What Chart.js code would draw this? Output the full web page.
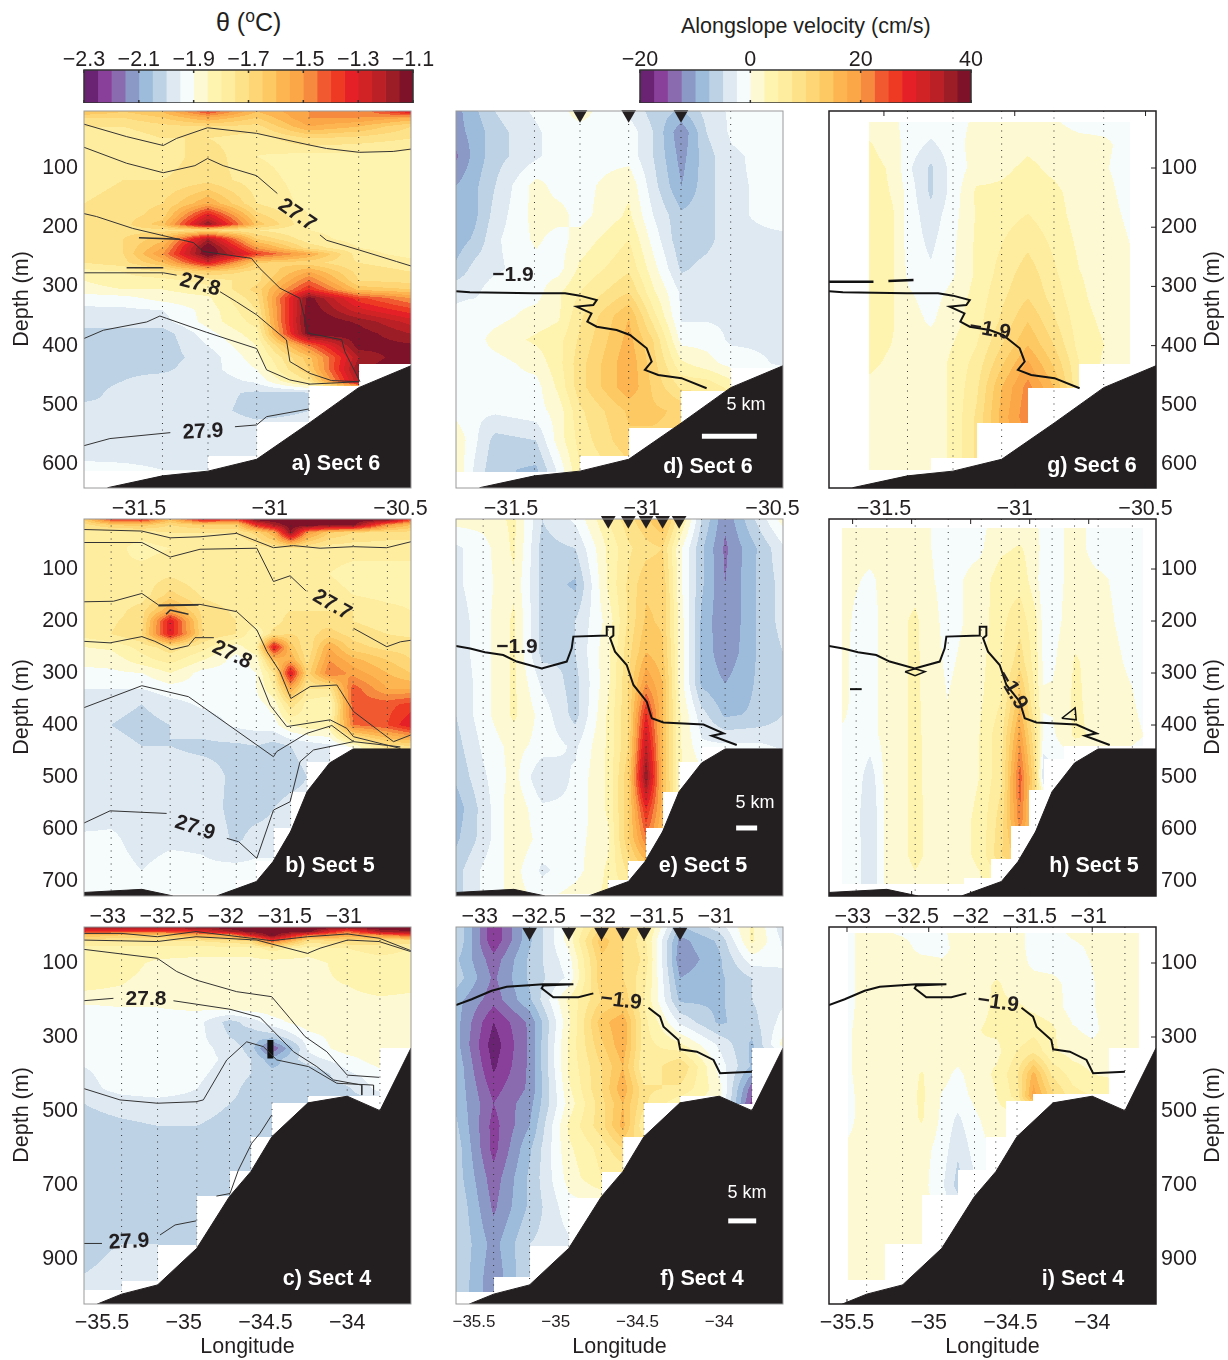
<!DOCTYPE html>
<html>
<head>
<meta charset="utf-8">
<script src="https://cdn.jsdelivr.net/npm/chart.js@4/dist/chart.umd.min.js"></script>
<style>
body{margin:0;background:#fff;width:1228px;height:1360px;position:relative;overflow:hidden;font-family:"Liberation Sans",Arial,sans-serif;color:#231f20}
canvas{position:absolute}
.ttl{position:absolute;white-space:nowrap}
sup{font-size:70%;line-height:0}
</style>
</head>
<body>
<div class="ttl" style="left:216px;top:8px;font-size:25px">θ (<sup>o</sup>C)</div>
<div class="ttl" style="left:681px;top:14px;font-size:21.5px">Alongslope velocity (cm/s)</div>
<script>
const bandColors=['#6a2373','#88409a','#8b6bb0','#8a99c5','#9dbcdb','#bdd2e5','#dfe9f2','#f6fbfc','#fdf9d3','#fef4b0','#feec9f','#fee28a','#fed676','#fdc963','#fcb550','#fba748','#f68b3f','#f15a30','#ef3a23','#e52127','#d12226','#bb2026','#9c1d26','#7e1228'];
const thetaLevels=[-2.3,-2.25,-2.2,-2.15,-2.1,-2.05,-2,-1.95,-1.9,-1.85,-1.8,-1.75,-1.7,-1.65,-1.6,-1.55,-1.5,-1.45,-1.4,-1.35,-1.3,-1.25,-1.2,-1.15];
const velLevels=[-20,-17.5,-15,-12.5,-10,-7.5,-5,-2.5,0,2.5,5,7.5,10,12.5,15,17.5,20,22.5,25,27.5,30,32.5,35,37.5];
const thetaTicks=[-2.3,-2.1,-1.9,-1.7,-1.5,-1.3,-1.1];
const velTicks=[-20,0,20,40];

// stations
const st6=[-31.41,-31.236,-31.05,-30.85,-30.66];
const st5=[-32.97,-32.71,-32.47,-32.19,-31.91,-31.74,-31.59,-31.45,-31.31,-31.12,-30.92,-30.63];
const st4=[-35.38,-35.16,-34.92,-34.72,-34.59,-34.46,-34.24,-34,-33.8];
const moor6=[-31.236,-31.05,-30.85];
const moor5=[-31.91,-31.74,-31.59,-31.45,-31.31];
const moor4=[-35.16,-34.92,-34.72,-34.59,-34.46,-34.24];

// bathymetry
const bath6Lon=[-31.62,-31.41,-31.236,-31.05,-30.85,-30.66,-30.46];
const bath6Dep=[640,620,612,592,531,471,434];
const bath5Lon=[-33.2,-32.71,-32.44,-32.08,-31.74,-31.6,-31.45,-31.31,-31.12,-30.92,-30.43];
const bath5Dep=[722,716,729,729,701,663,605,528,473,446,446];
const bath4Lon=[-35.53,-35.38,-35.16,-34.92,-34.72,-34.59,-34.46,-34.24,-34,-33.8,-33.61];
const bath4Dep=[1022,995,970,871,731,664,569,478,460,499,330];

// lowest sampled depth per column
const stairAEdge=[-31.236,-31.05,-30.85,-30.66,-30.46], stairADep=[612,587,529,468,431];
const stairDEdge=[-31.236,-31.05,-30.85,-30.66,-30.46], stairDDep=[613,587,539,477,438];
const stairGEdge=[-31.32,-31.146,-30.95,-30.754,-30.56], stairGDep=[610,590,531,471,431];
const stairBEdge=[-31.91,-31.74,-31.59,-31.45,-31.31,-31.12,-30.92,-30.43], stairBDep=[725,698,661,598,528,472,442,446];
const stairHEdge=[-32.06,-31.83,-31.66,-31.51,-31.38,-31.21,-30.54], stairHDep=[706,695,658,594,524,466,440];
const stairCEdge=[-35.38,-35.16,-34.92,-34.72,-34.59,-34.46,-34.24,-34,-33.8,-33.61], stairCDep=[985,959,862,731,661,571,478,460,460,330];
const stairFEdge=[-35.38,-35.16,-34.92,-34.72,-34.59,-34.46,-34.24,-34,-33.8,-33.61], stairFDep=[988,949,865,735,664,571,478,460,480,330];
const stairIEdge=[-35.27,-35.04,-34.82,-34.65,-34.53,-34.36,-33.9,-33.71], stairIDep=[957,859,727,659,569,473,454,329];

// potential temperature, section 6
const aLon=[-31.71,-31.56,-31.41,-31.236,-31.05,-30.85,-30.66,-30.46];
const aDep=[5,15,30,50,80,120,160,180,195,205,220,235,245,260,275,290,305,320,340,360,380,400,420,440,460,480,510,540,580,610];
const aVal=[
[-1.6,-1.65,-1.6,-1.4,-1.6,-1.5,-1.5,-1.3],
[-1.7,-1.7,-1.65,-1.55,-1.65,-1.5,-1.5,-1.55],
[-1.75,-1.75,-1.72,-1.7,-1.72,-1.55,-1.6,-1.7],
[-1.78,-1.78,-1.75,-1.75,-1.78,-1.7,-1.72,-1.75],
[-1.78,-1.78,-1.78,-1.72,-1.8,-1.82,-1.82,-1.82],
[-1.78,-1.75,-1.75,-1.72,-1.78,-1.82,-1.82,-1.82],
[-1.75,-1.72,-1.7,-1.55,-1.75,-1.82,-1.82,-1.82],
[-1.75,-1.72,-1.68,-1.3,-1.68,-1.8,-1.82,-1.82],
[-1.75,-1.72,-1.62,-1.15,-1.62,-1.8,-1.82,-1.82],
[-1.75,-1.72,-1.72,-1.7,-1.75,-1.8,-1.82,-1.82],
[-1.72,-1.7,-1.62,-1.2,-1.65,-1.78,-1.82,-1.82],
[-1.72,-1.7,-1.55,-1.08,-1.5,-1.72,-1.8,-1.82],
[-1.72,-1.7,-1.5,-1.08,-1.38,-1.55,-1.78,-1.82],
[-1.75,-1.72,-1.6,-1.3,-1.65,-1.68,-1.75,-1.78],
[-1.82,-1.8,-1.75,-1.65,-1.72,-1.55,-1.72,-1.75],
[-1.85,-1.82,-1.82,-1.78,-1.72,-1.45,-1.7,-1.72],
[-1.87,-1.85,-1.85,-1.82,-1.68,-1.35,-1.62,-1.65],
[-1.93,-1.92,-1.88,-1.86,-1.72,-1.12,-1.38,-1.5],
[-1.96,-1.96,-1.95,-1.88,-1.75,-1.1,-1.28,-1.38],
[-1.98,-1.98,-1.97,-1.88,-1.78,-1.08,-1.16,-1.27],
[-2.02,-2.02,-2.03,-1.92,-1.82,-1.1,-1.12,-1.2],
[-2.02,-2.02,-2.03,-1.95,-1.85,-1.45,-1.12,-1.14],
[-2.02,-2.02,-2.02,-1.98,-1.87,-1.62,-1.2,-1.1],
[-2.02,-2.01,-2.01,-1.97,-1.9,-1.65,-1.15,-1.1],
[-2.01,-2,-1.98,-1.98,-1.94,-1.75,-1.2],
[-2.01,-1.99,-1.98,-1.98,-2.01,-2.01],
[-1.99,-2,-1.98,-1.98,-2.02,-2],
[-1.97,-1.98,-1.98,-1.97,-1.98],
[-1.98,-1.98,-1.98,-1.97],
[-1.92,-1.93,-1.95,-1.95]];

// potential temperature, section 5
const bLon=[-33.2,-32.97,-32.71,-32.47,-32.19,-31.91,-31.74,-31.59,-31.45,-31.31,-31.12,-30.92,-30.63,-30.43];
const bDep=[5,15,30,60,110,150,180,200,225,250,275,300,330,360,400,440,500,560,620,680,725];
const bVal=[
[-1.65,-1.4,-1.35,-1.6,-1.3,-1.4,-1.12,-1.1,-1.1,-1.1,-1.1,-1.1,-1.12,-1.4],
[-1.72,-1.65,-1.62,-1.7,-1.65,-1.65,-1.35,-1.2,-1.1,-1.1,-1.12,-1.12,-1.5,-1.6],
[-1.78,-1.78,-1.78,-1.75,-1.75,-1.75,-1.68,-1.55,-1.15,-1.5,-1.65,-1.7,-1.72,-1.72],
[-1.78,-1.78,-1.82,-1.8,-1.8,-1.8,-1.78,-1.75,-1.75,-1.75,-1.78,-1.78,-1.78,-1.78],
[-1.8,-1.8,-1.78,-1.76,-1.8,-1.8,-1.8,-1.8,-1.78,-1.78,-1.8,-1.82,-1.82,-1.82],
[-1.8,-1.8,-1.78,-1.68,-1.76,-1.78,-1.78,-1.78,-1.75,-1.76,-1.78,-1.8,-1.82,-1.82],
[-1.78,-1.78,-1.72,-1.55,-1.72,-1.76,-1.8,-1.78,-1.75,-1.75,-1.75,-1.75,-1.78,-1.8],
[-1.78,-1.76,-1.72,-1.3,-1.72,-1.75,-1.78,-1.78,-1.72,-1.7,-1.72,-1.75,-1.78,-1.78],
[-1.78,-1.75,-1.7,-1.3,-1.7,-1.75,-1.85,-1.72,-1.7,-1.72,-1.68,-1.72,-1.75,-1.76],
[-1.85,-1.84,-1.78,-1.72,-1.78,-1.88,-1.8,-1.3,-1.62,-1.75,-1.55,-1.68,-1.72,-1.72],
[-1.89,-1.88,-1.82,-1.78,-1.85,-1.92,-1.88,-1.6,-1.55,-1.72,-1.5,-1.58,-1.65,-1.7],
[-1.91,-1.91,-1.9,-1.85,-1.92,-1.92,-1.9,-1.75,-1.28,-1.68,-1.45,-1.52,-1.6,-1.65],
[-1.95,-1.95,-1.95,-1.92,-1.92,-1.92,-1.9,-1.8,-1.55,-1.75,-1.75,-1.42,-1.55,-1.55],
[-1.96,-1.98,-2,-1.97,-1.94,-1.93,-1.92,-1.88,-1.72,-1.82,-1.85,-1.42,-1.42,-1.38],
[-2,-2,-2.02,-2,-1.98,-1.94,-1.93,-1.92,-1.85,-1.82,-1.82,-1.45,-1.4,-1.3],
[-1.98,-1.98,-2,-2,-2.01,-2.01,-2,-2.02,-2,-1.98,-1.96,-1.88,-1.72,-1.7],
[-2,-1.98,-1.98,-1.98,-1.98,-2.01,-2.03,-2.03,-2.02,-2],
[-1.98,-1.97,-1.97,-1.97,-1.97,-2.02,-2.02,-2,-1.98],
[-1.94,-1.94,-1.97,-1.96,-1.96,-2.01,-1.98],
[-1.93,-1.93,-1.95,-1.93,-1.94,-1.93],
[-1.92,-1.92,-1.92,-1.92,-1.92,-1.92]];

// potential temperature, section 4
const cLon=[-35.61,-35.38,-35.16,-34.92,-34.72,-34.59,-34.46,-34.24,-34,-33.8,-33.61];
const cDep=[5,15,25,40,60,100,160,220,260,300,330,360,400,440,480,540,600,700,800,900,1000];
const cVal=[
[-1.2,-1.2,-1.2,-1.15,-1.12,-1.1,-1.1,-1.1,-1.15,-1.1,-1.1],
[-1.35,-1.4,-1.4,-1.35,-1.2,-1.12,-1.1,-1.12,-1.45,-1.2,-1.15],
[-1.6,-1.65,-1.65,-1.55,-1.55,-1.3,-1.1,-1.45,-1.55,-1.5,-1.4],
[-1.75,-1.75,-1.75,-1.75,-1.72,-1.7,-1.4,-1.72,-1.7,-1.72,-1.72],
[-1.82,-1.82,-1.82,-1.82,-1.82,-1.82,-1.78,-1.82,-1.8,-1.78,-1.8],
[-1.82,-1.83,-1.86,-1.87,-1.87,-1.87,-1.87,-1.87,-1.83,-1.82,-1.82],
[-1.83,-1.85,-1.87,-1.87,-1.86,-1.86,-1.86,-1.86,-1.85,-1.83,-1.84],
[-1.91,-1.9,-1.9,-1.89,-1.88,-1.87,-1.87,-1.87,-1.87,-1.87,-1.87],
[-1.92,-1.92,-1.92,-1.93,-2.02,-1.98,-1.92,-1.87,-1.87,-1.87,-1.87],
[-1.92,-1.91,-1.91,-1.93,-2,-2.03,-2.03,-1.92,-1.87,-1.87,-1.87],
[-1.92,-1.91,-1.91,-1.93,-1.97,-2.02,-2.2,-1.94,-1.87,-1.87],
[-1.94,-1.92,-1.91,-1.93,-1.96,-2,-2.08,-1.97,-1.92,-1.87],
[-1.96,-1.92,-1.92,-1.94,-1.97,-2,-2.03,-2.05,-1.96,-1.92],
[-1.97,-1.93,-1.92,-1.95,-1.98,-2.02,-2.03,-2.03,-2.01,-1.93],
[-2,-1.98,-1.97,-1.97,-2,-2.02,-2.03,-2.03],
[-2.02,-2.01,-2,-2,-2.02,-2.03,-2.02],
[-2.03,-2.03,-2.03,-2.03,-2.03,-2.03],
[-2.03,-2.03,-2.02,-2.03,-2.02],
[-2.03,-2.03,-2,-2.03],
[-2.02,-1.98,-2,-2.02],
[-1.97,-1.95,-1.98]];

// velocity, section 6
const dLon=[-31.71,-31.637,-31.56,-31.404,-31.32,-31.236,-31.049,-30.956,-30.848,-30.752,-30.656,-30.46];
const dDep=[5,40,80,130,180,220,270,310,350,390,430,470,510,560,610];
const dVal=[
[-11,-8,-5,-2,-1,1,-3,-6,-8,-4,-2,-1],
[-11,-9,-6,-3,-1,-1,-1,-5,-12,-5,-2,-1],
[-13,-9,-6,-3,-1,-1,-1,-5,-11,-6,-3,-1],
[-10,-8,-5,1,-1,-1,2,-4,-10,-6,-3,-1.5],
[-10,-8,-4,1,1,-1,3,-2.5,-7,-6,-3,-1.5],
[-9,-7,-3,0.5,-1,1,5,-1,-7,-6,-3,-3],
[-7,-4,-3,-1,-1,3,7,1,-5.5,-4,-3,-3],
[-3,-3,-1,-1,2,5,10,3,-3,-3,-3,-3],
[-2,-1,-1,1,2,7,15,6,-3,-3,-3,-3],
[-2,-1,1,3,4,8,16,10,-1,-1,-3,-3],
[-1,-1,-1,1,4,9,17,11,3,1,-1,-3],
[-1,-1,-1,-1,3,9,17,12,7,7,4,1],
[-1,-2,-2,-1,1,7,13,13,12,8,8,2],
[2,-2,-6,-5,1,6,12],
[2,-3,-7,-8,-2,5,9]];

// velocity, section 5
const eLon=bLon;
const eDep=[5,60,130,200,260,320,380,440,500,560,620,680,725];
const eVal=[
[1,1,3,-5,-2,5,9,12,15,6,-5,-12,-4,1],
[-3,-1,3,-6,-5,3,7,9,10,1,-7,-13,-7,-3],
[-3,-1,2,-6,-8,3,8,12,12,1,-7,-12.5,-7,-4],
[-4,-1,3,-6,-5,1,8,13,12,2,-8,-12.5,-7,-4],
[-4,-1,3,-6,-5,2,9,15,13,2,-8,-12,-7,-5],
[-5,-1,3,-3,-6,2,10,20,15,2,-8,-10,-7,-5],
[-5,-1,3,-1,-6,3,10,28,15,3,-4,-8,-7,-5],
[-6,-2,1,-1,-3,3,10,33,15,3,-2,-2,-2,-3],
[-7,-3,1,-5,-2,3,12,38,15,3,1],
[-9,-4,2,-2,-2,3,12,28,16,2,-1],
[-8,-4,2,-1,-1,2,12,22,14],
[-6,-2,1,-3,-1,3,8,12],
[-6,-2,1,-1,1,3,5]];

// velocity, section 4
const fLon=cLon;
const fDep=[5,40,90,140,200,260,320,380,440,480,540,600,680,760,860,960];
const fVal=[
[-5,-17,-8,1,10,10,7,-8,-4,3,-4],
[-5,-17,-8,1,14,10,6,-11,-7,3,-3],
[-7,-14,-7,-1,12,10,7,-12,-8,-1,-2],
[-6,-13,-7,-2,12,10,6,-10,-8,-5,-3],
[-9,-14,-8,3,10,12,5,-8,-8,-5,-3],
[-9,-17.5,-12,2,14,17,6,-3,-8,-6,-1.5],
[-9,-19,-12,3,12,17,6,3,-3,-8,1],
[-8,-18,-12,3,10,15,5,10,-1,-8,-8],
[-8,-16,-12,2,10,17,8,7,1,-14,-15],
[-8,-15,-11,1,9,15,8,3,1,-16,-16],
[-7,-16,-10,3,9,16,5,5],
[-6,-16,-8,2,6,10],
[-6,-14,-7,1,5],
[-5,-13,-7,-1],
[-5,-11,-5,-3],
[-5,-12,-5]];

// velocity from the model, section 6
const gLon=[-31.559,-31.464,-31.406,-31.321,-31.238,-31.145,-31.05,-30.95,-30.85,-30.753,-30.657,-30.559];
const gDep=[22,60,100,140,180,230,280,320,360,400,430,470,520,610];
const gVal=[
[1,0.5,-1,-1,-1,0.5,1,1,0.3,-1,-1,-1],
[2.8,1,-1,-3,-1,1,1,2,1.5,1,0.5,-1],
[3.6,2,-2,-5.5,-1.5,1,2,3,2,1,0.2,-1],
[3.6,2.3,-1,-5.5,-1.5,3,3,3.5,3,1.5,0.8,-1],
[3.6,2.6,-1,-4,-1,2.8,4,5.1,3.5,1.5,1,-0.5],
[3.6,2.6,-1,-3,-0.5,3,5,7,4.5,2,1.5,0],
[3.6,2.6,-0.5,-2,-0.3,3,6,9,5.5,2.6,1.5,1],
[3.6,2.6,0.5,-1,1,3.5,7,10,6.5,3,1.5,1],
[3.6,2.6,1,-0.3,1.5,4,8,12.5,8,3.5,2,1],
[3.4,2.4,1,1,2.5,5,10,15,10,4,2.5,1.5],
[3,2,1,1,3,6,12,18,12,5,2,1.5],
[2,1.5,1,1,3,7,15,21,15,5],
[1.5,1.2,1,1,3,8,16,22,16],
[0.5,1,1,1,3,8,16]];

// velocity from the model, section 5
const hLon=[-33.087,-32.974,-32.852,-32.711,-32.471,-32.197,-31.926,-31.736,-31.581,-31.448,-31.383,-31.307,-31.115,-30.931,-30.635,-30.536];
const hDep=[21,60,120,200,280,350,420,500,580,650,710];
const hVal=[
[1,1,1,1,1,-1,-0.5,1,1,0.5,-1,-1,1,-1,-1,-1],
[1,1,1,1,1,-1,-0.5,2,2.8,1,-1,-1,1,-1,-1,-1],
[1,0.3,-0.5,1,1.5,-1,1,4,4,1,-2,-1,1,0.5,-1,-1],
[1,-0.5,-1,1,3,-1,1,4.5,6.5,3,-1,-1,1.5,1,-1,-1],
[1,-1,-1,1,3,-0.5,1.5,5,9,3.5,-0.5,-0.5,2.8,1.5,-0.5,-1],
[1,-1,-1,1,3,0,2,5,14,4,0.3,0.5,3,1.5,0.3,-1],
[-0.5,-0.5,-1,1,3,0.5,2.5,7,19,7,-0.5,-0.5,3,2,1,0],
[-1,-1,-4,1,3,0.7,2.5,7,24,9,-5,-3],
[-1,-1.5,-5,1,3,1,3,9,22,10],
[-0.8,-1,-5,1,3,1,3,10,14],
[-0.8,-1,-5,1,2,1,2]];

// velocity from the model, section 4
const iLon=[-35.496,-35.41,-35.161,-35.043,-34.92,-34.822,-34.722,-34.584,-34.461,-34.359,-34.247,-34.121,-33.998,-33.9,-33.711];
const iDep=[19,60,100,160,220,280,340,400,460,520,600,700,860,960];
const iVal=[
[-1,1,-0.3,-1,-0.5,1,1,1,1,-1,-1,0.5,1,1,1],
[-1,1,1,-0.8,-1,1,1,1.5,1,-1,-1,-0.7,0.5,1,1],
[-1,1,1,1,0.5,1,1,1,1,-0.5,-1,-1,0.1,1,1],
[-1,1,1,1,1,1,1,3,1,1,1,-1,-0.2,1,1],
[-1,1,1,1,1,1,1.5,3,3,2,1.2,-1,-0.2,1,1],
[-0.5,1,1,1,1,1,2.3,3,3,4,3,0.3,-0.7,1,1],
[-0.5,1,1,1,1,1,2.4,1.8,5,7,3,1.5,1,1,1],
[-0.5,1,1,2.7,0.8,-0.5,1,3,7,16,7,4,2.5,2,1],
[-1,1,1,3,-0.2,-1,0.5,2.5,6,19,11,6,5,5,1],
[-1,1,1,2.8,-0.5,-3,-0.5,1.5,1,1],
[0.5,1,1,1,-1,-4.5,-1.5,1],
[1,1,1,1,-2,-6,-3],
[1,1,1,1],
[1,1,1]];

// isopycnals, section 6
const a1Lon=[-31.71,-31.547,-31.407,-31.356,-31.238,-31.05,-30.85,-30.783,-30.658,-30.528,-30.46];
const a1Dep=[26,47,62,50,32,41.5,61,67,73.5,72,68];
const a2Lon=[-31.71,-31.547,-31.407,-31.286,-31.238,-31.178,-31.05,-30.971,null,-30.808,-30.783,-30.658,-30.515,-30.46];
const a2Dep=[65,92,108,96,84,96,113,143,null,213,222,238.5,258,265.5];
const a3Lon=[-31.71,-31.662,-31.524,-31.4,-31.292,-31.254,-31.07,-31.038,-30.961,-30.885,-30.853,-30.725,-30.713,-30.655];
const a3Dep=[177,182,202,215,226,241,252.6,269.5,303,320,379,390,410,461];
const a4Lon=[-31.71,-31.407,-31.356,null,-31.19,-31.127,-31.05,-30.936,-30.923,-30.846,-30.764,-30.658];
const a4Dep=[277,277,281,null,309,326,348,390.5,427,447,459,461];
const a5Lon=[-31.71,-31.636,-31.47,-31.42,-31.394,-31.241,-31.05,-31.012,-30.923,-30.846,-30.658];
const a5Dep=[388,374,360,350,354,377.6,405,441,458,465,461];
const a6Lon=[-31.71,-31.611,-31.38,null,-31.133,-31.05,-31.012,-30.85];
const a6Dep=[569,557,547,null,537,534,520,507];
const a7Lon=[-31.5,-31.343,null,-31.547,-31.407];
const a7Dep=[217.7,220.5,null,268.3,268.3];
// isopycnals, section 5
const b1Lon=[-33.205,-32.71,-32.47,-32.217,-31.906,-31.595,-31.425,-31.2,-30.917,-30.635,-30.43];
const b1Dep=[24,27,40,38,31.5,59,55,60,57,59,47.5];
const b2Lon=[-33.205,-32.71,-32.47,-32.217,-31.736,-31.595,-31.454,-31.32,null,-30.917,-30.635,-30.52,-30.43];
const b2Dep=[49,49,77,62,60,124,113,142,null,214,249.4,240,237];
const b3Lon=[-33.205,-32.951,-32.71,-32.57,-32.217,-31.906,-31.736,-31.65,-31.54,-31.448,-31.284,-31.058,-30.917,-30.69,-30.578,-30.43];
const b3Dep=[163,162,147,169,168,182,217,259,297.5,349,326,323,374,413,432,419];
const b4Lon=[-33.205,-32.979,-32.71,-32.6,-32.457,-32.315,-32.26,-32.1,null,-31.72,-31.623,-31.482,-31.115,-30.974,-30.917,-30.52];
const b4Dep=[239,242,230,239,255,247.5,232,232,null,307,362,403,390,406.4,422.5,445];
const b5Lon=[-33.205,-32.71,-32.315,-32.075,-31.595,-31.567,-31.313,-31.1,-31.03,-30.917,-30.52];
const b5Dep=[367,324.4,345.5,384,461,451,416,401,413,432,442];
const b6Lon=[-33.205,-32.979,-32.5,null,-31.99,-31.89,-31.736,-31.595,-31.454,-31.37,-31.256,-30.917];
const b6Dep=[589,565,570,null,618,624.4,656.4,563.5,547.5,470.5,448,432];
const b7Lon=[-32.57,-32.23,null,-32.505,-32.47,-32.315];
const b7Dep=[170.6,169,null,187,179,187];
// isopycnals, section 4
const c1Lon=[-35.614,-35.38,-35.161,-34.925,-34.462,-34.243,-33.998,-33.805,-33.61];
const c1Dep=[20,20,29,15,39.7,29,21.6,33,66.7];
const c2Lon=[-35.614,-35.161,-34.925,-34.553,-34.462,-34.243,-34.166,-33.998,-33.805,-33.61];
const c2Dep=[38,42,29,38,48.7,74,60,38,42,69.4];
const c3Lon=[-35.614,-35.161,-35.043,-34.925,-34.676,-34.462,-34.35,-34.258,-34.125,-34,-33.805];
const c3Dep=[63,87.4,123,146,177.5,191,249.6,299,339.7,403,409];
const c4Lon=[-35.614,-35.43,null,-35.063,-34.717,-34.533,-34.329,-34.186,-34.084,-33.911,-33.911];
const c4Dep=[202,195.5,null,202,225,247,339.7,380,416,430,457];
const c5Lon=[-35.614,-35.39,-35.161,-34.925,-34.88,-34.737,-34.615,-34.513,-34.431,-34.237,-34.064,-33.839,-33.839];
const c5Dep=[439,470,479,475,470,362,313,326,362,380,425,430,457];
const c6Lon=[-34.462,-34.533,-34.584,-34.666,-34.717,-34.8];
const c6Dep=[511,560,587,660,723,730];
const c7Lon=[-35.614,-35.5,null,-35.145,-35.053,-34.925];
const c7Dep=[858,858,null,835,808,797];
const cCoreLon=[-34.47,-34.47], cCoreDep=[308,358];

// -1.9 isotherm
const th6Lon=[-31.71,-31.657,-31.414,-31.293,-31.236,-31.172,-31.185,-31.249,-31.192,-31.208,-31.172,-31.096,-31.045,-30.981,-30.962,-30.988,-30.937,-30.848,-30.752];
const th6Dep=[308,310,311.7,311.7,315.6,323,331.4,334,345.5,359.5,368,373.6,382,404.6,427,441,449.6,455,472];
const th6DashLon=[-31.71,-31.54,null,-31.483,-31.387], th6DashDep=[292,292,null,291,289];
const th5Lon=[-33.2,-33.08,-32.954,-32.8,-32.686,-32.474,-32.262,-32.22,-32.206,-31.923,-31.923,-31.867,-31.867,-31.895,-31.853,-31.754,-31.697,-31.584,-31.542,-31.443,-31.104,-30.934,-31.033,-30.822];
const th5Dep=[248,253,260,265.4,278,291,278,252.6,230,228,211,211,228,233,259,284.6,323,355,387,395,399,416,420.5,438.5];
const th5LoopLon=[-32.556,-32.471,-32.386,-32.471,-32.556], th5LoopDep=[297.5,292,297.5,305,297.5];
const th5DashLon=[-33.022,-32.923], th5DashDep=[331,331];
const th5BlipLon=[-31.228,-31.115,-31.106,-31.228], th5BlipDep=[387,367,390,387];
const th4Lon=[-35.61,-35.514,-35.392,-35.3,-35.076,-34.892,-35.076,-35.086,-35.015,-34.862,-34.77,null,-34.433,-34.362,-34.341,-34.25,-34.239,-34.137,-34.035,-33.995,-33.8];
const th4Dep=[213.5,198,175,164,157.7,157.7,161,168.5,192.8,192.8,182,null,221,245,272,308,333.4,339.7,362,398,393.8];

// scale bars, 5 km
const kmDLon=[-30.77,-30.56], kmDDep=[553,553];
const kmELon=[-30.827,-30.649], kmEDep=[598,598];
const kmFLon=[-33.945,-33.774], kmFDep=[797,797];

const xTicks6=[-31.5,-31,-30.5], xTicks5=[-33,-32.5,-32,-31.5,-31], xTicks4=[-35.5,-35,-34.5,-34];
const yTicks6=[100,200,300,400,500,600], yTicks5=[100,200,300,400,500,600,700], yTicks4=[100,300,500,700,900];

const FONT='"Liberation Sans", Arial, sans-serif';
const INK='#231f20';
const TICK=21.5;
const PANEL='bold 21.5px';
const KM='18px';
const minus=v=>(v<0?'\u2212':'')+Math.abs(v);
const pts=(lon,dep)=>lon.map((x,i)=>({x:x,y:dep[i]}));
const iso=(lon,dep,w)=>({type:'line',data:pts(lon,dep),borderColor:'#333',borderWidth:w||1,pointRadius:0,order:1,tension:0});
const thick=(lon,dep,w)=>({type:'line',data:pts(lon,dep),borderColor:'#111',borderWidth:w||2,pointRadius:0,order:1,tension:0});

const fieldPlugin={
  id:'field',
  beforeDatasetsDraw(chart,args,o){
    const {ctx,chartArea:a,scales:{x,y}}=chart;
    const L=Math.round(a.left),R=Math.round(a.right),T=Math.round(a.top),B=Math.round(a.bottom);
    const nc=o.lon.length,nr=o.dep.length;
    const val=(r,c)=>{const row=o.val[r];return c<row.length?row[c]:row[row.length-1]};
    const lons=[];
    for(let px=L;px<R;px++){
      const lon=x.getValueForPixel(px+.5);
      let c=0;while(c<nc-2&&lon>o.lon[c+1])c++;
      let s=0;while(s<o.stairEdge.length-1&&lon>o.stairEdge[s])s++;
      lons.push({c:c,t:(lon-o.lon[c])/(o.lon[c+1]-o.lon[c]),bot:o.stairDep[s],on:lon>=o.lon[0]&&lon<=o.lon[nc-1]});
    }
    for(let py=T;py<B;py++){
      const dep=y.getValueForPixel(py+.5);
      if(o.clipTop&&dep<o.dep[0])continue;
      let r=0;while(r<nr-2&&dep>o.dep[r+1])r++;
      const u=Math.min(1,Math.max(0,(dep-o.dep[r])/(o.dep[r+1]-o.dep[r])));
      let runStart=-1,runCol=-1;
      for(let i=0;i<=lons.length;i++){
        let k=-1;
        if(i<lons.length&&lons[i].on&&dep<=lons[i].bot){
          const q=lons[i];
          const v=(val(r,q.c)*(1-q.t)+val(r,q.c+1)*q.t)*(1-u)+(val(r+1,q.c)*(1-q.t)+val(r+1,q.c+1)*q.t)*u;
          k=Math.max(0,Math.min(23,Math.floor((v-o.lo)/o.step+1e-9)));
        }
        if(k!==runCol){
          if(runCol>=0){ctx.fillStyle=bandColors[runCol];ctx.fillRect(L+runStart,py,i-runStart,1)}
          runStart=i;runCol=k;
        }
      }
    }
  }
};

const decorPlugin={
  id:'decor',
  afterDatasetsDraw(chart,args,o){
    const {ctx,chartArea:a,scales:{x,y}}=chart;
    ctx.save();
    ctx.strokeStyle=o.frame;ctx.lineWidth=o.frameW;
    ctx.strokeRect(a.left,a.top,a.right-a.left,a.bottom-a.top);
    ctx.strokeStyle=INK;ctx.lineWidth=1;
    ctx.beginPath();
    x.ticks.forEach(t=>{const p=x.getPixelForValue(t.value);ctx.moveTo(p,a.bottom);ctx.lineTo(p,a.bottom-o.tick);if(o.tickTop){ctx.moveTo(p,a.top);ctx.lineTo(p,a.top+o.tick)}});
    if(y&&y.ticks&&o.yTick)y.ticks.forEach(t=>{const p=y.getPixelForValue(t.value);const e=y.position==='right'?a.right:a.left;const d=y.position==='right'?-o.yTick:o.yTick;ctx.moveTo(e,p);ctx.lineTo(e+d,p)});
    ctx.stroke();
    const ox=o.ox,oy=o.oy;
    ctx.textAlign='center';ctx.textBaseline='middle';
    (o.texts||[]).forEach(t=>{
      ctx.save();ctx.translate(t[1]-ox,t[2]-oy);ctx.rotate((t[3]||0)*Math.PI/180);
      ctx.font=(t[5]||'bold 21px')+' '+FONT;ctx.fillStyle=t[4]||INK;ctx.fillText(t[0],0,0);ctx.restore();
    });
    ctx.restore();
  }
};

function addPanel(p){
  const c=document.createElement('canvas');
  const ox=p.left-p.mL,oy=p.top-p.mT;
  const w=p.w+p.mL+p.mR,h=p.h+p.mT+p.mB;
  c.width=w;c.height=h;c.style.left=ox+'px';c.style.top=oy+'px';c.style.width=w+'px';c.style.height=h+'px';
  document.body.appendChild(c);
  const datasets=[];
  p.stations.forEach(s=>datasets.push({type:'line',data:[{x:s,y:p.yMin},{x:s,y:p.yMax}],borderColor:'#333',borderWidth:1,borderDash:[1,5.5],pointRadius:0,order:3}));
  p.lines.forEach(l=>datasets.push(l));
  datasets.push({type:'line',data:pts(p.bathLon,p.bathDep),borderColor:'#231f20',backgroundColor:'#231f20',borderWidth:1,pointRadius:0,fill:{value:p.yMax},order:0});
  if(p.km)datasets.push({type:'line',data:pts(p.km[0],p.km[1]),borderColor:'#fff',borderWidth:5,pointRadius:0,order:-1,borderCapStyle:'butt'});
  if(p.moor)datasets.push({type:'line',showLine:false,clip:false,data:p.moor.map(m=>({x:m,y:p.moorDep})),pointStyle:'triangle',pointRotation:180,pointRadius:8.5,pointBackgroundColor:'#231f20',pointBorderWidth:0,order:-2});
  const none=p.yPos==='none',right=p.yPos==='right';
  new Chart(c,{
    type:'line',
    data:{datasets:datasets},
    plugins:[fieldPlugin,decorPlugin],
    options:{
      responsive:false,animation:false,events:[],
      layout:{autoPadding:false,padding:{left:none||right?p.mL:0,right:right?0:p.mR,top:p.mT,bottom:0}},
      scales:{
        x:{type:'linear',min:p.xMin,max:p.xMax,grid:{display:false,drawTicks:false},border:{display:false},
          afterBuildTicks:s=>{s.ticks=p.xTicks.map(v=>({value:v}))},
          afterFit:s=>{s.height=p.mB;s.paddingLeft=0;s.paddingRight=0},
          ticks:{autoSkip:false,maxRotation:0,padding:p.xPad,color:INK,font:{family:FONT,size:p.xFont||TICK},callback:minus},
          title:{display:!!p.xTitle,text:'Longitude',color:INK,font:{family:FONT,size:21.5},padding:{top:0,bottom:0}}},
        y:{type:'linear',reverse:true,min:p.yMin,max:p.yMax,display:!none,position:right?'right':'left',grid:{display:false,drawTicks:false},border:{display:false},
          afterBuildTicks:s=>{s.ticks=p.yTicks.map(v=>({value:v}))},
          afterFit:s=>{s.width=none?0:(right?p.mR:p.mL);s.paddingTop=0;s.paddingBottom=0},
          ticks:{autoSkip:false,padding:right?5:6,color:INK,font:{family:FONT,size:TICK}}}
      },
      plugins:{
        legend:{display:false},tooltip:{enabled:false},
        field:{lon:p.lon,dep:p.dep,val:p.val,stairEdge:p.stairEdge,stairDep:p.stairDep,lo:p.lo,step:p.step,clipTop:p.clipTop},
        decor:{frame:p.frame,frameW:p.frameW,tick:p.tick,tickTop:p.tickTop,yTick:p.yTick,ox:ox,oy:oy,texts:p.texts}
      }
    }
  });
}

function addBar(left,width,levels,step,ticks){
  const c=document.createElement('canvas');
  const mL=40,mR=30,mT=36,h=33;
  c.width=width+mL+mR;c.height=h+mT;c.style.left=(left-mL)+'px';c.style.top=(70-mT)+'px';
  document.body.appendChild(c);
  new Chart(c,{
    type:'bar',
    data:{labels:['k'],datasets:levels.map((lo,i)=>({data:[[lo,lo+step]],backgroundColor:bandColors[i],barPercentage:1,categoryPercentage:1,grouped:false}))},
    plugins:[{id:'barFrame',afterDatasetsDraw(ch){
      const {ctx,chartArea:a,scales:{x}}=ch;
      ctx.save();ctx.strokeStyle='#333';ctx.lineWidth=1.5;ctx.strokeRect(a.left,a.top,a.right-a.left,a.bottom-a.top);
      ctx.beginPath();x.ticks.forEach(t=>{const p=x.getPixelForValue(t.value);ctx.moveTo(p,a.top);ctx.lineTo(p,a.top+3);ctx.moveTo(p,a.bottom);ctx.lineTo(p,a.bottom-3)});ctx.stroke();ctx.restore();
    }}],
    options:{
      indexAxis:'y',responsive:false,animation:false,events:[],
      layout:{autoPadding:false,padding:{left:mL,right:mR,top:0,bottom:0}},
      scales:{
        x:{type:'linear',position:'top',min:levels[0],max:levels[23]+step,grid:{display:false,drawTicks:false},border:{display:false},
          afterBuildTicks:s=>{s.ticks=ticks.map(v=>({value:v}))},afterFit:s=>{s.height=mT;s.paddingLeft=0;s.paddingRight=0},
          ticks:{autoSkip:false,maxRotation:0,padding:-3,color:INK,font:{family:FONT,size:TICK},callback:minus}},
        y:{display:false}
      },
      plugins:{legend:{display:false},tooltip:{enabled:false}}
    }
  });
}

addBar(84,329,thetaLevels,0.05,thetaTicks);
addBar(640,331,velLevels,2.5,velTicks);

const row6={top:111,h:377,w:327,mT:12,mB:40,xPad:8,xMin:-31.71,xMax:-30.46,yMin:3.7,yMax:640.5,xTicks:xTicks6,yTicks:yTicks6,stations:st6,bathLon:bath6Lon,bathDep:bath6Dep};
const row5={top:519,h:377,w:327,mT:12,mB:32,xPad:8,xMin:-33.2,xMax:-30.43,yMin:3.8,yMax:728.8,xTicks:xTicks5,yTicks:yTicks5,stations:st5,bathLon:bath5Lon,bathDep:bath5Dep};
const row4={top:927,h:377,w:327,mT:12,mB:56,xPad:6,xMin:-35.61,xMax:-33.61,yMin:2.7,yMax:1021.6,xTicks:xTicks4,yTicks:yTicks4,stations:st4,bathLon:bath4Lon,bathDep:bath4Dep,xTitle:true};
const colA={left:84,mL:84,mR:30,yPos:'left',frame:'#9a9a9a',frameW:1,tick:0,yTick:0,lo:-2.3,step:0.05};
const colB={left:456,mL:35,mR:30,yPos:'none',frame:'#9a9a9a',frameW:1,tick:0,yTick:0,lo:-20,step:2.5};
const colC={left:829,mL:35,mR:72,yPos:'right',frame:'#231f20',frameW:1.5,tick:5,tickTop:true,yTick:5,lo:-20,step:2.5,clipTop:true};

addPanel({...row6,...colA,lon:aLon,dep:aDep,val:aVal,stairEdge:stairAEdge,stairDep:stairADep,
  lines:[iso(a1Lon,a1Dep),iso(a2Lon,a2Dep),iso(a3Lon,a3Dep),iso(a4Lon,a4Dep),iso(a5Lon,a5Dep),iso(a6Lon,a6Dep),iso(a7Lon,a7Dep,1.5)],
  texts:[['Depth (m)',22,299,-90,INK,'21.5px'],['27.7',297,215,35],['27.8',200,285,15],['27.9',203,432,-3],['a) Sect 6',336,464,0,'#fff',PANEL]]});
addPanel({...row5,...colA,lon:bLon,dep:bDep,val:bVal,stairEdge:stairBEdge,stairDep:stairBDep,
  lines:[iso(b1Lon,b1Dep),iso(b2Lon,b2Dep),iso(b3Lon,b3Dep),iso(b4Lon,b4Dep),iso(b5Lon,b5Dep),iso(b6Lon,b6Dep),iso(b7Lon,b7Dep,1.5)],
  texts:[['Depth (m)',22,707,-90,INK,'21.5px'],['27.7',332,605,30],['27.8',232,655,25],['27.9',195,828,18],['b) Sect 5',330,866,0,'#fff',PANEL]]});
addPanel({...row4,...colA,lon:cLon,dep:cDep,val:cVal,stairEdge:stairCEdge,stairDep:stairCDep,
  lines:[iso(c1Lon,c1Dep),iso(c2Lon,c2Dep),iso(c3Lon,c3Dep),iso(c4Lon,c4Dep),iso(c5Lon,c5Dep),iso(c6Lon,c6Dep),iso(c7Lon,c7Dep),thick(cCoreLon,cCoreDep,6)],
  texts:[['Depth (m)',22,1115,-90,INK,'21.5px'],['27.8',146,999,0],['27.9',129,1242,-3],['c) Sect 4',327,1279,0,'#fff',PANEL]]});

addPanel({...row6,...colB,lon:dLon,dep:dDep,val:dVal,stairEdge:stairDEdge,stairDep:stairDDep,moor:moor6,moorDep:9,km:[kmDLon,kmDDep],
  lines:[thick(th6Lon,th6Dep)],
  texts:[['\u22121.9',513,275],['5 km',746,405,0,'#fff',KM],['d) Sect 6',708,467,0,'#fff',PANEL]]});
addPanel({...row5,...colB,lon:eLon,dep:eDep,val:eVal,stairEdge:stairBEdge,stairDep:stairBDep,moor:moor5,moorDep:6,km:[kmELon,kmEDep],
  lines:[thick(th5Lon,th5Dep)],
  texts:[['\u22121.9',517,647],['5 km',755,803,0,'#fff',KM],['e) Sect 5',703,866,0,'#fff',PANEL]]});
addPanel({...row4,...colB,xFont:17,xPad:8,lon:fLon,dep:fDep,val:fVal,stairEdge:stairFEdge,stairDep:stairFDep,moor:moor4,moorDep:16,km:[kmFLon,kmFDep],
  lines:[thick(th4Lon,th4Dep)],
  texts:[['\u22121.9',621,1001,7],['5 km',747,1193,0,'#fff',KM],['f) Sect 4',702,1279,0,'#fff',PANEL]]});

addPanel({...row6,...colC,lon:gLon,dep:gDep,val:gVal,stairEdge:stairGEdge,stairDep:stairGDep,
  lines:[thick(th6Lon,th6Dep),thick(th6DashLon,th6DashDep,2.5)],
  texts:[['Depth (m)',1213,299,-90,INK,'21.5px'],['\u22121.9',990,330,10],['g) Sect 6',1092,466,0,'#fff',PANEL]]});
addPanel({...row5,...colC,lon:hLon,dep:hDep,val:hVal,stairEdge:stairHEdge,stairDep:stairHDep,
  lines:[thick(th5Lon,th5Dep),thick(th5LoopLon,th5LoopDep,1.5),thick(th5DashLon,th5DashDep,2),thick(th5BlipLon,th5BlipDep,1.5)],
  texts:[['Depth (m)',1213,707,-90,INK,'21.5px'],['\u22121.9',1012,690,60],['h) Sect 5',1094,866,0,'#fff',PANEL]]});
addPanel({...row4,...colC,lon:iLon,dep:iDep,val:iVal,stairEdge:stairIEdge,stairDep:stairIDep,
  lines:[thick(th4Lon,th4Dep)],
  texts:[['Depth (m)',1213,1115,-90,INK,'21.5px'],['\u22121.9',998,1003,8],['i) Sect 4',1083,1279,0,'#fff',PANEL]]});
</script>
</body>
</html>
